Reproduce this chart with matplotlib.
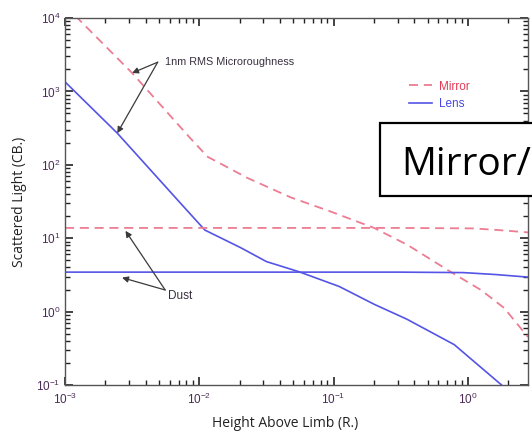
import matplotlib
matplotlib.use("Agg")
import matplotlib.pyplot as plt
from matplotlib.patches import Rectangle
from matplotlib.ticker import FixedLocator, LogFormatterSciNotation, NullFormatter

plt.rcParams['font.family'] = ['Liberation Sans', 'DejaVu Sans']
plt.rcParams['mathtext.fontset'] = 'custom'
plt.rcParams['mathtext.rm'] = 'Liberation Sans'
plt.rcParams['mathtext.it'] = 'Liberation Sans'

# ---- data ----
mirror_rough_x = [0.001, 0.00316, 0.0085, 0.0115, 0.0229, 0.0479, 0.0955, 0.2, 0.355, 0.74, 1.26, 1.86, 2.8]
mirror_rough_y = [14800, 1780, 234, 129, 66, 36, 23, 13.8, 8.1, 3.5, 1.95, 1.12, 0.45]

lens_rough_x = [0.001, 0.00245, 0.00724, 0.011, 0.0204, 0.0316, 0.055, 0.11, 0.2, 0.35, 0.79, 1.78, 2.24]
lens_rough_y = [1350, 270, 30, 12.9, 7.4, 4.8, 3.5, 2.2, 1.26, 0.79, 0.355, 0.1, 0.063]

mirror_dust_x = [0.001, 0.3, 1.09, 1.6, 2.8]
mirror_dust_y = [13.8, 13.8, 13.6, 13.0, 12.0]

lens_dust_x = [0.001, 0.3, 0.92, 1.6, 2.8]
lens_dust_y = [3.45, 3.45, 3.4, 3.2, 2.95]

series_labels = ['Mirror', 'Lens']
x_decades = [-3, -2, -1, 0]
y_decades = [-1, 0, 1, 2, 3, 4]
xlim = (1e-3, 2.8)
ylim = (1e-1, 1e4)

mirror_color = '#ec7d93'
lens_color = '#5454e6'
tick_color = '#4a2c55'

fig = plt.figure(figsize=(5.32, 4.44), dpi=100)
W, H = 532, 444
ax = fig.add_axes([65 / W, 1 - 385 / H, (528 - 65) / W, (385 - 18) / H])

dash = (0, (5, 3.2))
lm, = ax.plot(mirror_rough_x, mirror_rough_y, color=mirror_color, lw=1.3, linestyle=dash, label=series_labels[0])
ll, = ax.plot(lens_rough_x, lens_rough_y, color=lens_color, lw=1.2, label=series_labels[1])
ax.plot(mirror_dust_x, mirror_dust_y, color=mirror_color, lw=1.3, linestyle=dash)
ax.plot(lens_dust_x, lens_dust_y, color=lens_color, lw=1.2)

ax.set_xscale('log')
ax.set_yscale('log')
ax.set_xlim(*xlim)
ax.set_ylim(*ylim)

subs = [2, 3, 4, 5, 6, 7, 8, 9]
for a, decs in ((ax.xaxis, x_decades), (ax.yaxis, y_decades)):
    majors = [10.0 ** d for d in decs]
    minors = [s * 10.0 ** d for d in decs for s in subs]
    a.set_major_locator(FixedLocator(majors))
    a.set_minor_locator(FixedLocator(minors))
    a.set_minor_formatter(NullFormatter())
    a.set_major_formatter(LogFormatterSciNotation())
ax.set_xlim(*xlim)
ax.set_ylim(*ylim)

ax.tick_params(which='both', direction='in', top=True, right=True, bottom=True, left=True,
               color='#222222', labelcolor=tick_color, labelsize=8.5)
ax.tick_params(which='major', length=6, width=1.2)
ax.tick_params(which='minor', length=3.5, width=1.0)
ax.tick_params(axis='x', pad=5)
for s in ax.spines.values():
    s.set_color('#555555')
    s.set_linewidth(1.0)

# annotations
arrow_kw = dict(arrowstyle='-|>', color='#3a3a3a', lw=0.9, mutation_scale=9, shrinkA=0, shrinkB=0)
ax.annotate('', xy=(0.00316, 1780), xytext=(0.0049, 2500), arrowprops=arrow_kw)
ax.annotate('', xy=(0.00245, 270), xytext=(0.0049, 2500), arrowprops=arrow_kw)
ax.text(0.0056, 2500, '1nm RMS Microroughness', fontsize=7.8, color='#3a3040', va='center', ha='left')

ax.annotate('', xy=(0.00282, 12.6), xytext=(0.00557, 1.97), arrowprops=arrow_kw)
ax.annotate('', xy=(0.00266, 2.9), xytext=(0.00557, 1.97), arrowprops=arrow_kw)
ax.text(0.0058, 1.65, 'Dust', fontsize=8.5, color='#3a3040', va='center', ha='left')

leg = ax.legend(handles=[lm, ll], loc='upper left', bbox_to_anchor=(398 / W, 1 - 70 / H),
                bbox_transform=fig.transFigure, frameon=False, fontsize=8.5,
                handlelength=2.0, handletextpad=0.6, labelspacing=0.45,
                labelcolor=['#e33a55', '#4848e8'])

# axis labels
fig.text(285 / W, 1 - 423 / H, 'Height Above Limb (R.)', fontsize=10, family='Open Sans',
         ha='center', va='center', color='#222222')
fig.text(20 / W, 1 - 202 / H, 'Scattered Light (CB.)', fontsize=10, family='Open Sans',
         ha='center', va='center', rotation=90, color='#222222')

# overlay box
fig.patches.append(Rectangle((380 / W, 1 - 196 / H), 200 / W, 73 / H, transform=fig.transFigure,
                             facecolor='white', edgecolor='black', lw=1.6, zorder=10))
fig.text(401 / W, 1 - 175 / H, 'Mirror/', fontsize=28, family='Open Sans', ha='left',
         va='baseline', color='black', zorder=11)

fig.savefig('out.png', dpi=100)
